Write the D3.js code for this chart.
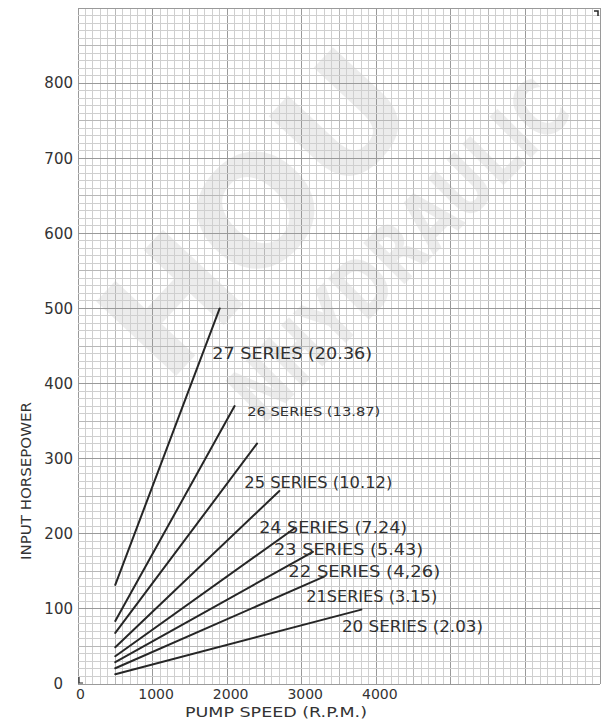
<!DOCTYPE html>
<html>
<head>
<meta charset="utf-8">
<script src="https://cdn.jsdelivr.net/npm/d3@7"></script>
<style>
  html, body { margin: 0; padding: 0; background: #ffffff; }
  svg { display: block; }
  text { font-family: "DejaVu Sans", "Liberation Sans", sans-serif; }
</style>
</head>
<body>
<svg id="chart" width="608" height="725"></svg>
<script>
// ---------- data ----------
const rpmTicks = [0, 1000, 2000, 3000, 4000];
const hpTicks = [0, 100, 200, 300, 400, 500, 600, 700, 800];
const seriesNames = ["27 SERIES", "26 SERIES", "25 SERIES", "24 SERIES", "23 SERIES", "22 SERIES", "21SERIES", "20 SERIES"];
const displacements = ["20.36", "13.87", "10.12", "7.24", "5.43", "4,26", "3.15", "2.03"];
const startRpm = [500, 500, 500, 500, 500, 500, 500, 500];
const startHp = [132, 84, 68, 49, 37, 29, 21, 13];
const endRpm = [1900, 2100, 2400, 2700, 2900, 3150, 3300, 3800];
const endHp = [500, 370, 320, 257, 207, 176, 143, 99];
// label anchors (data units: rpm, hp) for the hand-lettered series labels
const labelRpm = [1800, 2270, 2230, 2430, 2630, 2820, 3060, 3540];
const labelHp = [440, 363, 268, 208, 179, 149, 116, 77];
const xTitle = "PUMP SPEED  (R.P.M.)";
const yTitle = "INPUT  HORSEPOWER";
const watermark = ["HOU", "NHYDRAULIC"];

// ---------- layout / style ----------
const labelWidth = [160, 133, 148, 148, 149, 152, 131, 141];
const labelSize = [15, 12.5, 15, 15, 15, 15, 15, 15];
const ink = "#262626";

const svg = d3.select("#chart");
const x = d3.scaleLinear().domain([0, 7000]).range([78, 600]);
const y = d3.scaleLinear().domain([0, 900]).range([684, 8]);

// ---------- watermark (faint, behind the grid) ----------
const wm = svg.append("g").attr("fill", "#000").attr("fill-opacity", 0.075)
  .style("font-family", "'DejaVu Serif', serif").style("font-weight", "bold");
const wmSpec = [
  { text: watermark[0], cx: 255, cy: 212, angle: -47, size: 150, len: 390 },
  { text: watermark[1], cx: 398, cy: 250, angle: -45, size: 80, len: 440 }
];
wmSpec.forEach(s => {
  const t = wm.append("text").text(s.text)
    .attr("text-anchor", "middle").attr("dy", "0.36em")
    .attr("font-size", s.size);
  const natural = t.node().getComputedTextLength() || s.len;
  const sx = Math.min(1, s.len / natural);
  t.attr("transform", `translate(${s.cx},${s.cy}) rotate(${s.angle}) scale(${sx},1)`);
});

// ---------- grid ----------
const grid = svg.append("g").attr("shape-rendering", "crispEdges");
const minorX = d3.range(0, 7001, 100);
const minorY = d3.range(0, 901, 10);
grid.selectAll("line.vx").data(minorX).join("line").attr("class", "vx")
  .attr("x1", d => x(d)).attr("x2", d => x(d)).attr("y1", y(0)).attr("y2", y(900))
  .attr("stroke", d => d % 1000 === 0 ? "#9a9a9a" : (d % 500 === 0 ? "#b8b8b8" : "#cfcfcf"))
  .attr("stroke-width", 1);
grid.selectAll("line.hy").data(minorY).join("line").attr("class", "hy")
  .attr("x1", x(0)).attr("x2", x(7000)).attr("y1", d => y(d)).attr("y2", d => y(d))
  .attr("stroke", d => d % 100 === 0 ? "#9a9a9a" : (d % 50 === 0 ? "#b8b8b8" : "#cfcfcf"))
  .attr("stroke-width", 1);

// ---------- axes ----------
const yAxis = svg.append("g").attr("transform", `translate(${x(0) - 5},0)`)
  .call(d3.axisLeft(y).tickValues(hpTicks).tickSize(0).tickPadding(0).tickFormat(d3.format("d")));
yAxis.select(".domain").remove();
yAxis.selectAll("text").attr("font-size", 15).attr("fill", "#333")
  .style("font-family", "'DejaVu Sans', sans-serif")
  .attr("dx", d => d === 0 ? -10 : 0);

const xAxis = svg.append("g").attr("transform", `translate(0,${y(0)})`)
  .call(d3.axisBottom(x).tickValues(rpmTicks).tickSize(0).tickPadding(5).tickFormat(d3.format("d")));
xAxis.select(".domain").remove();
xAxis.selectAll("text").attr("font-size", 14).attr("fill", "#333")
  .style("font-family", "'DejaVu Sans', sans-serif")
  .attr("dx", d => d === 0 ? 2 : 3);

// small origin mark
svg.append("path")
  .attr("d", `M${x(0) + 1},${y(0) - 7} L${x(0) + 1},${y(0) - 1} L${x(0) + 5},${y(0) - 1}`)
  .attr("fill", "none").attr("stroke", ink).attr("stroke-width", 1.2);

// axis titles
svg.append("text").text(xTitle)
  .attr("x", 276).attr("y", 717).attr("text-anchor", "middle")
  .attr("font-size", 14).attr("fill", "#333")
  .attr("textLength", 182).attr("lengthAdjust", "spacingAndGlyphs");
svg.append("text").text(yTitle)
  .attr("transform", "translate(31,481) rotate(-90)").attr("text-anchor", "middle")
  .attr("font-size", 14).attr("fill", "#333")
  .attr("textLength", 158).attr("lengthAdjust", "spacingAndGlyphs");

// ---------- series lines ----------
const seriesData = seriesNames.map((name, i) => ({
  name,
  label: `${name} (${displacements[i]})`,
  pts: [{ rpm: startRpm[i], hp: startHp[i] }, { rpm: endRpm[i], hp: endHp[i] }],
  lr: labelRpm[i], lh: labelHp[i], w: labelWidth[i], fs: labelSize[i]
}));
const line = d3.line().x(d => x(d.rpm)).y(d => y(d.hp));
svg.append("g").selectAll("path").data(seriesData).join("path")
  .attr("d", d => line(d.pts))
  .attr("fill", "none").attr("stroke", ink).attr("stroke-width", 2)
  .attr("stroke-linecap", "round");

svg.append("g").selectAll("text").data(seriesData).join("text")
  .text(d => d.label)
  .attr("x", d => x(d.lr)).attr("y", d => y(d.lh)).attr("dy", "0.36em")
  .attr("font-size", d => d.fs).attr("fill", "#303030")
  .attr("textLength", d => d.w).attr("lengthAdjust", "spacingAndGlyphs");

// top-right corner mark
svg.append("path").attr("d", `M${x(7000) - 6},${y(900) + 3} L${x(7000) - 2},${y(900) + 3} L${x(7000) - 2},${y(900) + 8}`)
  .attr("fill", "none").attr("stroke", ink).attr("stroke-width", 1.5);
</script>
</body>
</html>
